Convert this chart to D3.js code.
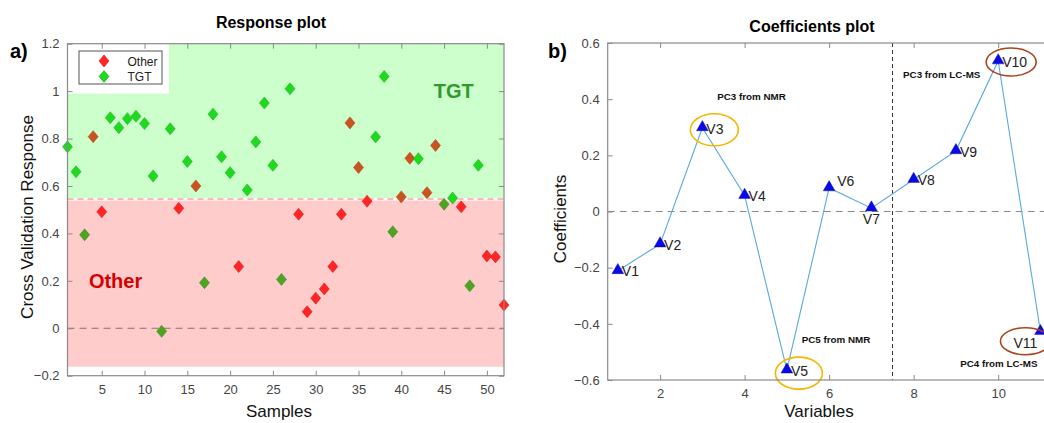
<!DOCTYPE html>
<html><head><meta charset="utf-8">
<script src="https://cdn.jsdelivr.net/npm/d3@7"></script>
<style>
body{margin:0;background:#fff;}
svg{font-family:Arial,"Liberation Sans",sans-serif;display:block;}
</style></head>
<body><svg id="c" width="1044" height="423"></svg>
<script>
// ---------- data: Response plot ----------
const samples = d3.range(1, 53);
const responses = [0.765,0.66,0.394,0.808,0.491,0.888,0.846,0.884,0.894,0.863,
  0.642,-0.013,0.841,0.506,0.703,0.600,0.192,0.903,0.723,0.656,
  0.260,0.583,0.786,0.950,0.687,0.206,1.010,0.481,0.070,0.127,
  0.166,0.260,0.481,0.866,0.678,0.536,0.807,1.062,0.407,0.554,
  0.717,0.715,0.572,0.771,0.523,0.549,0.512,0.179,0.687,0.305,
  0.301,0.098];
const classes = ["TGT","TGT","TGT","Other","Other","TGT","TGT","TGT","TGT","TGT",
  "TGT","TGT","TGT","Other","TGT","Other","TGT","TGT","TGT","TGT",
  "Other","TGT","TGT","TGT","TGT","TGT","TGT","Other","Other","Other",
  "Other","Other","Other","Other","Other","Other","TGT","TGT","TGT","Other",
  "Other","TGT","Other","Other","TGT","TGT","Other","TGT","TGT","Other",
  "Other","Other"];
const threshold = 0.545;
const regionBottom = -0.162;
const legendLabels = ["Other","TGT"];
const xTicksA = [5,10,15,20,25,30,35,40,45,50];
const yTicksA = [-0.2,0,0.2,0.4,0.6,0.8,1,1.2];

// ---------- data: Coefficients plot ----------
const variables = [1,2,3,4,5,6,7,8,9,10,11];
const varLabels = ["V1","V2","V3","V4","V5","V6","V7","V8","V9","V10","V11"];
const coefficients = [-0.211,-0.116,0.298,0.057,-0.565,0.084,0.012,0.114,0.216,0.536,-0.428];
const blockSplit = 7.5;
const xTicksB = [2,4,6,8,10];
const yTicksB = [-0.6,-0.4,-0.2,0,0.2,0.4,0.6];
const annotations = [
  {text:"PC3 from NMR", v:3.35, c:0.405},
  {text:"PC5 from NMR", v:5.35, c:-0.46},
  {text:"PC3 from LC-MS", v:7.75, c:0.485},
  {text:"PC4 from LC-MS", v:9.1, c:-0.545}
];
const circled = [
  {v:"V3", color:"#f5b700"},{v:"V5", color:"#f5b700"},
  {v:"V10", color:"#a8441c"},{v:"V11", color:"#a8441c"}
];

const svg = d3.select("#c");
const diamond = {draw(ctx){ctx.moveTo(0,-6);ctx.lineTo(5,0);ctx.lineTo(0,6);ctx.lineTo(-5,0);ctx.closePath();}};
const axisCol = "#8a8a8a", tickTxt = "#444";

// ================= Plot a =================
const A = {l:67.5, r:504, t:43.7, b:375.7};
const xa = d3.scaleLinear().domain([1,52]).range([A.l, A.r]);
const ya = d3.scaleLinear().domain([-0.2,1.2]).range([A.b, A.t]);
const ga = svg.append("g");

ga.append("rect").attr("x",A.l).attr("y",ya(1.2)).attr("width",A.r-A.l)
  .attr("height",ya(threshold)-ya(1.2)-1).attr("fill","#ccffcc");
ga.append("rect").attr("x",A.l).attr("y",ya(threshold)+1.5).attr("width",A.r-A.l)
  .attr("height",ya(regionBottom)-ya(threshold)-1.5).attr("fill","#ffcccc");
ga.append("line").attr("x1",A.l).attr("x2",A.r).attr("y1",ya(threshold)).attr("y2",ya(threshold))
  .attr("stroke","#ff7070").attr("stroke-width",1).attr("stroke-dasharray","6,4");
ga.append("line").attr("x1",A.l).attr("x2",A.r).attr("y1",ya(0)).attr("y2",ya(0))
  .attr("stroke","#8c6c6c").attr("stroke-width",1.2).attr("stroke-dasharray","7,5");

// legend white area
ga.append("rect").attr("x",A.l+0.5).attr("y",A.t).attr("width",101).attr("height",50).attr("fill","#fff");

// region labels
ga.append("text").attr("x",xa(43.8)).attr("y",ya(1.0)+7).attr("font-size",20).attr("font-weight","bold")
  .attr("fill","#2e9a2e").text("TGT");
ga.append("text").attr("x",xa(3.5)).attr("y",ya(0.2)+7).attr("font-size",20).attr("font-weight","bold")
  .attr("fill","#d40000").text("Other");

function markerColor(cls, val){
  if(cls==="Other") return val>threshold ? "#c9541f" : "#ff2525";
  return val>threshold ? "#1fd81f" : "#4ea323";
}
ga.selectAll("path.pt").data(samples).join("path").attr("class","pt")
  .attr("d", d3.symbol().type(diamond))
  .attr("transform", (d,i)=>`translate(${xa(d)},${ya(responses[i])})`)
  .attr("fill",(d,i)=>markerColor(classes[i],responses[i]))
  .attr("stroke",(d,i)=>d3.color(markerColor(classes[i],responses[i])).darker(0.4))
  .attr("stroke-width",0.6);

// axes box
ga.append("rect").attr("x",A.l).attr("y",A.t).attr("width",A.r-A.l).attr("height",A.b-A.t)
  .attr("fill","none").attr("stroke",axisCol).attr("stroke-width",1.2);
const axB = ga.append("g").attr("transform",`translate(0,${A.b})`)
  .call(d3.axisBottom(xa).tickValues(xTicksA).tickSize(-5).tickPadding(9));
const axT = ga.append("g").attr("transform",`translate(0,${A.t})`)
  .call(d3.axisTop(xa).tickValues(xTicksA).tickSize(-5).tickFormat(""));
const axL = ga.append("g").attr("transform",`translate(${A.l},0)`)
  .call(d3.axisLeft(ya).tickValues(yTicksA).tickSize(-5).tickPadding(8).tickFormat(d=>d3.format("")(Math.round(d*10)/10)));
const axR = ga.append("g").attr("transform",`translate(${A.r},0)`)
  .call(d3.axisRight(ya).tickValues(yTicksA).tickSize(-5).tickFormat(""));
[axB,axT,axL,axR].forEach(g=>{g.select(".domain").remove();g.selectAll("line").attr("stroke",axisCol);
  g.selectAll("text").attr("font-size",13).attr("fill",tickTxt).attr("font-family","Arial,'Liberation Sans',sans-serif");});

// legend
const lg = ga.append("g");
lg.append("rect").attr("x",79).attr("y",51).attr("width",83).attr("height",33)
  .attr("fill","#fff").attr("stroke","#555").attr("stroke-width",1);
legendLabels.forEach((lab,i)=>{
  lg.append("path").attr("d",d3.symbol().type(diamond)())
    .attr("transform",`translate(104,${61+i*15.5})`)
    .attr("fill", lab==="Other" ? "#ff2525" : "#1fd81f")
    .attr("stroke", lab==="Other" ? "#d01010" : "#18a818").attr("stroke-width",0.6);
  lg.append("text").attr("x",127.5).attr("y",61+i*15.5+4.5).attr("font-size",12).attr("fill","#222").text(lab);
});

// titles & labels
svg.append("text").attr("x",271).attr("y",28).attr("text-anchor","middle").attr("font-size",16)
  .attr("font-weight","bold").text("Response plot");
svg.append("text").attr("x",10).attr("y",58).attr("font-size",20).attr("font-weight","bold").text("a)");
svg.append("text").attr("transform","translate(33,217) rotate(-90)").attr("text-anchor","middle")
  .attr("font-size",17).attr("fill","#111").text("Cross Validation Response");
svg.append("text").attr("x",279).attr("y",417).attr("text-anchor","middle").attr("font-size",17)
  .attr("fill","#111").text("Samples");

// ================= Plot b =================
const B = {l:607.7, r:1051, t:43, b:380};
const xb = d3.scaleLinear().domain([0.76,11.25]).range([B.l, B.r]);
const yb = d3.scaleLinear().domain([-0.6,0.6]).range([B.b, B.t]);
const gb = svg.append("g");

gb.append("line").attr("x1",B.l).attr("x2",B.r).attr("y1",yb(0)).attr("y2",yb(0))
  .attr("stroke","#8a8a8a").attr("stroke-width",1.2).attr("stroke-dasharray","7,5");
gb.append("line").attr("x1",xb(blockSplit)).attr("x2",xb(blockSplit)).attr("y1",B.t).attr("y2",B.b)
  .attr("stroke","#333").attr("stroke-width",1).attr("stroke-dasharray","4,3");

gb.append("path").datum(variables)
  .attr("d", d3.line().x(d=>xb(d)).y((d,i)=>yb(coefficients[i])))
  .attr("fill","none").attr("stroke","#5aa9e0").attr("stroke-width",1.1);

gb.selectAll("path.tri").data(variables).join("path").attr("class","tri")
  .attr("d", d3.symbol().type(d3.symbolTriangle).size(60))
  .attr("transform",(d,i)=>`translate(${xb(d)},${yb(coefficients[i])-0.5})`)
  .attr("fill","#0a0ae6").attr("stroke","#0000a0").attr("stroke-width",0.4);

// label placement (style only)
const labelPlace = {V6:{dx:8,dy:-6,anchor:"start"}, V7:{dx:0,dy:12,anchor:"middle"}, V11:{dx:-15,dy:13,anchor:"middle"}};
gb.selectAll("text.vl").data(variables).join("text").attr("class","vl")
  .attr("x",(d,i)=>xb(d)+((labelPlace[varLabels[i]]||{dx:4}).dx))
  .attr("y",(d,i)=>yb(coefficients[i])+((labelPlace[varLabels[i]]||{dy:2}).dy))
  .attr("text-anchor",(d,i)=>(labelPlace[varLabels[i]]||{anchor:"start"}).anchor)
  .attr("dominant-baseline","middle").attr("font-size",14).attr("fill","#222")
  .text((d,i)=>varLabels[i]);

// circles
const ellipseShape = {V3:{dx:12,dy:2,rx:24,ry:16}, V5:{dx:12,dy:3,rx:23.5,ry:16},
  V10:{dx:13,dy:1,rx:25,ry:14}, V11:{dx:-15,dy:9.5,rx:25,ry:13.5}};
circled.forEach(c=>{
  const i = varLabels.indexOf(c.v), s = ellipseShape[c.v];
  gb.append("ellipse").attr("cx",xb(variables[i])+s.dx).attr("cy",yb(coefficients[i])+s.dy)
    .attr("rx",s.rx).attr("ry",s.ry).attr("fill","none").attr("stroke",c.color).attr("stroke-width",1.6);
});

annotations.forEach(a=>{
  gb.append("text").attr("x",xb(a.v)).attr("y",yb(a.c)).attr("dominant-baseline","middle")
    .attr("font-size",9.8).attr("font-weight","bold").attr("fill","#111").text(a.text);
});

gb.append("rect").attr("x",B.l).attr("y",B.t).attr("width",B.r-B.l).attr("height",B.b-B.t)
  .attr("fill","none").attr("stroke",axisCol).attr("stroke-width",1.2);
const bB = gb.append("g").attr("transform",`translate(0,${B.b})`)
  .call(d3.axisBottom(xb).tickValues(xTicksB).tickSize(-5).tickPadding(9));
const bT = gb.append("g").attr("transform",`translate(0,${B.t})`)
  .call(d3.axisTop(xb).tickValues(xTicksB).tickSize(-5).tickFormat(""));
const bL = gb.append("g").attr("transform",`translate(${B.l},0)`)
  .call(d3.axisLeft(yb).tickValues(yTicksB).tickSize(-5).tickPadding(8).tickFormat(d=>d3.format("")(Math.round(d*10)/10)));
[bB,bT,bL].forEach(g=>{g.select(".domain").remove();g.selectAll("line").attr("stroke",axisCol);
  g.selectAll("text").attr("font-size",13).attr("fill",tickTxt).attr("font-family","Arial,'Liberation Sans',sans-serif");});

svg.append("text").attr("x",812).attr("y",32).attr("text-anchor","middle").attr("font-size",16)
  .attr("font-weight","bold").text("Coefficients plot");
svg.append("text").attr("x",548).attr("y",58).attr("font-size",20).attr("font-weight","bold").text("b)");
svg.append("text").attr("transform","translate(566,219) rotate(-90)").attr("text-anchor","middle")
  .attr("font-size",17).attr("fill","#111").text("Coefficients");
svg.append("text").attr("x",819).attr("y",417).attr("text-anchor","middle").attr("font-size",17)
  .attr("fill","#111").text("Variables");
</script></body></html>
